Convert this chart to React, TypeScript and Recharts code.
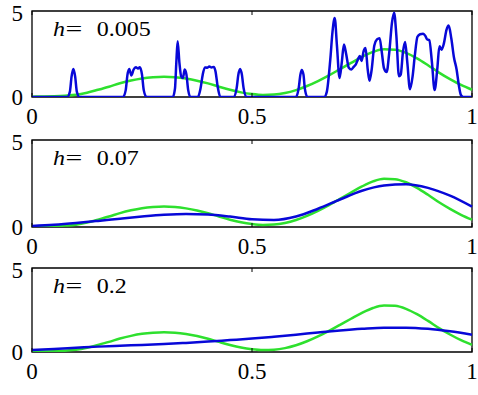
import React from "react";
import { LineChart, Line, XAxis, YAxis, ReferenceArea } from "recharts";

// x grids
const fineX = [0, 0.025, 0.05, 0.075, 0.1, 0.125, 0.15, 0.175, 0.2, 0.225, 0.25, 0.275, 0.3, 0.325, 0.35, 0.375, 0.4, 0.425, 0.45, 0.475, 0.5, 0.525, 0.55, 0.575, 0.6, 0.625, 0.65, 0.675, 0.7, 0.725, 0.75, 0.775, 0.8, 0.825, 0.85, 0.875, 0.9, 0.925, 0.95, 0.975, 1];
const coarseX = [0, 0.05, 0.1, 0.15, 0.2, 0.25, 0.3, 0.35, 0.4, 0.45, 0.5, 0.55, 0.6, 0.65, 0.7, 0.75, 0.8, 0.85, 0.9, 0.95, 1];

// true density (green), on fineX
const trueDensity = [0.02, 0.03, 0.05, 0.08, 0.13, 0.25, 0.42, 0.6, 0.8, 0.96, 1.08, 1.15, 1.18, 1.15, 1.07, 0.95, 0.79, 0.6, 0.42, 0.27, 0.17, 0.12, 0.14, 0.23, 0.4, 0.64, 0.93, 1.26, 1.62, 1.98, 2.33, 2.62, 2.77, 2.75, 2.57, 2.25, 1.85, 1.42, 1.04, 0.7, 0.42];

// estimates (blue), on coarseX
const estH007 = [0.06, 0.13, 0.23, 0.35, 0.48, 0.6, 0.7, 0.75, 0.72, 0.6, 0.44, 0.4, 0.6, 1.05, 1.58, 2.08, 2.38, 2.46, 2.25, 1.8, 1.17];
const estH02 = [0.12, 0.18, 0.25, 0.32, 0.37, 0.42, 0.47, 0.54, 0.62, 0.71, 0.8, 0.91, 1.03, 1.16, 1.28, 1.38, 1.45, 1.45, 1.38, 1.23, 1.03];

// h = 0.005 estimate, [x, y]
const estH0005: [number, number][] = [
  [0, 0], [0.08, 0], [0.086, 0.3], [0.09, 1.2], [0.094, 1.63], [0.098, 1.2], [0.102, 0.3], [0.108, 0],
  [0.207, 0], [0.213, 0.4], [0.217, 1.3], [0.221, 1.63], [0.226, 1.25], [0.231, 1.6], [0.236, 1.73], [0.241, 1.65], [0.245, 1.73], [0.25, 1.3], [0.254, 0.4], [0.26, 0],
  [0.32, 0], [0.325, 0.5], [0.328, 2.0], [0.331, 3.24], [0.335, 2.0], [0.339, 1.2], [0.343, 1.1], [0.347, 1.6], [0.351, 1.3], [0.355, 0.4], [0.36, 0],
  [0.377, 0], [0.383, 0.5], [0.388, 1.3], [0.393, 1.72], [0.398, 1.7], [0.403, 1.78], [0.408, 1.72], [0.413, 1.75], [0.417, 1.5], [0.422, 0.6], [0.428, 0],
  [0.458, 0], [0.465, 0.5], [0.469, 1.3], [0.473, 1.63], [0.477, 1.3], [0.481, 0.5], [0.488, 0],
  [0.6, 0], [0.606, 0.5], [0.61, 1.3], [0.613, 1.57], [0.617, 1.3], [0.62, 0.5], [0.626, 0],
  [0.664, 0], [0.67, 0.3], [0.678, 2.2], [0.683, 3.8], [0.688, 4.6], [0.693, 3.0], [0.699, 1.1], [0.704, 2.0], [0.709, 3.05], [0.714, 2.5],
  [0.72, 1.7], [0.726, 1.6], [0.731, 1.75], [0.736, 1.9], [0.741, 2.2], [0.745, 2.38], [0.749, 2.1], [0.754, 2.7], [0.758, 2.85], [0.763, 1.6],
  [0.767, 0.95], [0.772, 1.6], [0.778, 3.0], [0.784, 3.35], [0.79, 3.42], [0.795, 2.6], [0.8, 1.67], [0.806, 1.45], [0.812, 2.6], [0.818, 4.3],
  [0.823, 4.9], [0.828, 3.6], [0.834, 1.2], [0.838, 1.3], [0.843, 2.6], [0.848, 3.2], [0.853, 2.0], [0.859, 0.45], [0.865, 1.2], [0.87, 2.4],
  [0.876, 3.5], [0.882, 3.65], [0.889, 3.68], [0.894, 3.55], [0.898, 3.35], [0.903, 3.3], [0.909, 2.0], [0.915, 0.4], [0.921, 1.6], [0.926, 2.95],
  [0.931, 2.75], [0.936, 3.1], [0.942, 3.9], [0.947, 4.15], [0.953, 3.4], [0.959, 2.3], [0.965, 1.6], [0.97, 0.7], [0.975, 0.1], [0.98, 0], [1, 0],
];

const bandwidths = ["0.005", "0.07", "0.2"];
const xTicks = [0, 0.5, 1];
const yTicks = [0, 5];

const GREEN = "#2ee02e";
const BLUE = "#0808d8";
const FONT = "Liberation Serif";

const toRows = (xs: number[], ys: number[]) => xs.map((x, i) => ({ x, y: ys[i] }));
const greenRows = toRows(fineX, trueDensity);
const blueSets = [
  estH0005.map(([x, y]) => ({ x, y })),
  toRows(coarseX, estH007),
  toRows(coarseX, estH02),
];

const PLOT_H = [86, 87, 84];
const TOPS = [0, 129, 257];

function Panel({ idx }: { idx: number }) {
  const plotH = PLOT_H[idx];
  const h = 11 + plotH + 40;
  const xTick = (p: any) => {
    const { x, y, payload } = p;
    return (
      <g>
        <line x1={x} x2={x} y1={y} y2={y - 4} stroke="#000" />
        <line x1={x} x2={x} y1={y - plotH} y2={y - plotH + 4} stroke="#000" />
        <text x={x} y={y + 27} textAnchor="middle" fontSize={23} fontFamily={FONT} fill="#000">
          {payload.value}
        </text>
      </g>
    );
  };
  const yTick = (p: any) => {
    const { x, y, payload } = p;
    return (
      <text x={x - 9} y={y + (payload.value === 0 ? 8 : 10)} textAnchor="end" fontSize={23} fontFamily={FONT} fill="#000">
        {payload.value}
      </text>
    );
  };
  return (
    <div style={{ position: "absolute", left: 0, top: TOPS[idx], width: 478, height: h }}>
      <LineChart width={478} height={h} margin={{ top: 11, right: 6, left: 0, bottom: 0 }}>
        <XAxis dataKey="x" type="number" domain={[0, 1]} ticks={xTicks} height={40} axisLine={false} tickLine={false} tickSize={0} tickMargin={0} tick={xTick} interval={0} />
        <YAxis type="number" domain={[0, 5]} ticks={yTicks} width={32} axisLine={false} tickLine={false} tickSize={0} tickMargin={0} tick={yTick} interval={0} allowDataOverflow />
        <ReferenceArea x1={0} x2={1} y1={0} y2={5} fill="none" stroke="#000" strokeWidth={1.3} />
        <Line data={greenRows} dataKey="y" type="monotone" stroke={GREEN} strokeWidth={2.5} dot={false} isAnimationActive={false} />
        <Line data={blueSets[idx]} dataKey="y" type="monotone" stroke={BLUE} strokeWidth={2.5} dot={false} isAnimationActive={false} />
      </LineChart>
      <svg width={478} height={h} style={{ position: "absolute", left: 0, top: 0, pointerEvents: "none" }}>
        <g transform={`translate(53, ${11 + 25}) scale(1.2, 1)`}>
          <text fontSize={20} fontFamily={FONT} fill="#000">
            <tspan x={0} fontStyle="italic">h</tspan>
          </text>
          <text x={10.5} fontSize={20} fontFamily={FONT} fill="#000" textLength={14} lengthAdjust="spacingAndGlyphs">=</text>
          <text x={36.5} fontSize={20} fontFamily={FONT} fill="#000">{bandwidths[idx]}</text>
        </g>
      </svg>
    </div>
  );
}

export default function App() {
  return (
    <div style={{ position: "absolute", left: 0, top: 0, width: 478, height: 395, background: "#fff" }}>
      {[0, 1, 2].map((i) => (
        <Panel key={i} idx={i} />
      ))}
    </div>
  );
}
